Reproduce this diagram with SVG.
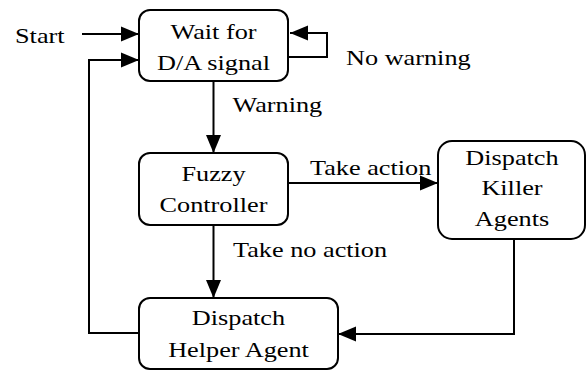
<svg xmlns="http://www.w3.org/2000/svg" width="586" height="370" viewBox="0 0 586 370" font-family="'Liberation Serif', 'Times New Roman', serif" font-size="21">
  <style>
    .box { fill: #ffffff; stroke: #000000; stroke-width: 2; }
    .wire { fill: none; stroke: #000000; stroke-width: 2; }
    .mid { text-anchor: middle; }
  </style>
  <defs>
    <marker id="arrow" markerUnits="userSpaceOnUse" markerWidth="18" markerHeight="16" refX="18" refY="8" orient="auto">
      <path d="M0,0.5 L18,8 L0,15.5 Z" fill="#000000"/>
    </marker>
  </defs>

  <!-- connectors -->
  <g id="connectors">
    <line class="wire" x1="82" y1="34" x2="139" y2="34" marker-end="url(#arrow)"/>
    <polyline class="wire" points="289,57 327,57 327,33 290,33" marker-end="url(#arrow)"/>
    <line class="wire" x1="213.5" y1="81" x2="213.5" y2="153" marker-end="url(#arrow)"/>
    <line class="wire" x1="288" y1="183" x2="438" y2="183" marker-end="url(#arrow)"/>
    <line class="wire" x1="213.5" y1="225" x2="213.5" y2="298" marker-end="url(#arrow)"/>
    <polyline class="wire" points="514,239 514,334 338,334" marker-end="url(#arrow)"/>
    <polyline class="wire" points="139,333 89,333 89,60 139,60" marker-end="url(#arrow)"/>
  </g>

  <!-- connector labels (glyphs drawn wide) -->
  <g id="labels" transform="scale(1.25 1)">
    <text x="12" y="43">Start</text>
    <text x="276.8" y="65">No warning</text>
    <text x="186" y="112">Warning</text>
    <text x="248" y="175">Take action</text>
    <text x="186.4" y="257">Take no action</text>
  </g>

  <g id="wait">
    <rect class="box" x="139" y="10" width="149" height="71" rx="11"/>
    <g transform="scale(1.25 1)">
      <text class="mid" x="170.8" y="39">Wait for</text>
      <text class="mid" x="170.8" y="70">D/A signal</text>
    </g>
  </g>

  <g id="fuzzy">
    <rect class="box" x="139" y="153" width="149" height="72" rx="11"/>
    <g transform="scale(1.25 1)">
      <text class="mid" x="170.8" y="181">Fuzzy</text>
      <text class="mid" x="170.8" y="212">Controller</text>
    </g>
  </g>

  <g id="killer">
    <rect class="box" x="438" y="141" width="147" height="98" rx="14"/>
    <g transform="scale(1.25 1)">
      <text class="mid" x="409.6" y="165">Dispatch</text>
      <text class="mid" x="409.6" y="195">Killer</text>
      <text class="mid" x="409.6" y="226">Agents</text>
    </g>
  </g>

  <g id="helper">
    <rect class="box" x="139" y="298" width="199" height="71" rx="11"/>
    <g transform="scale(1.25 1)">
      <text class="mid" x="190.8" y="325">Dispatch</text>
      <text class="mid" x="190.8" y="357">Helper Agent</text>
    </g>
  </g>
</svg>
